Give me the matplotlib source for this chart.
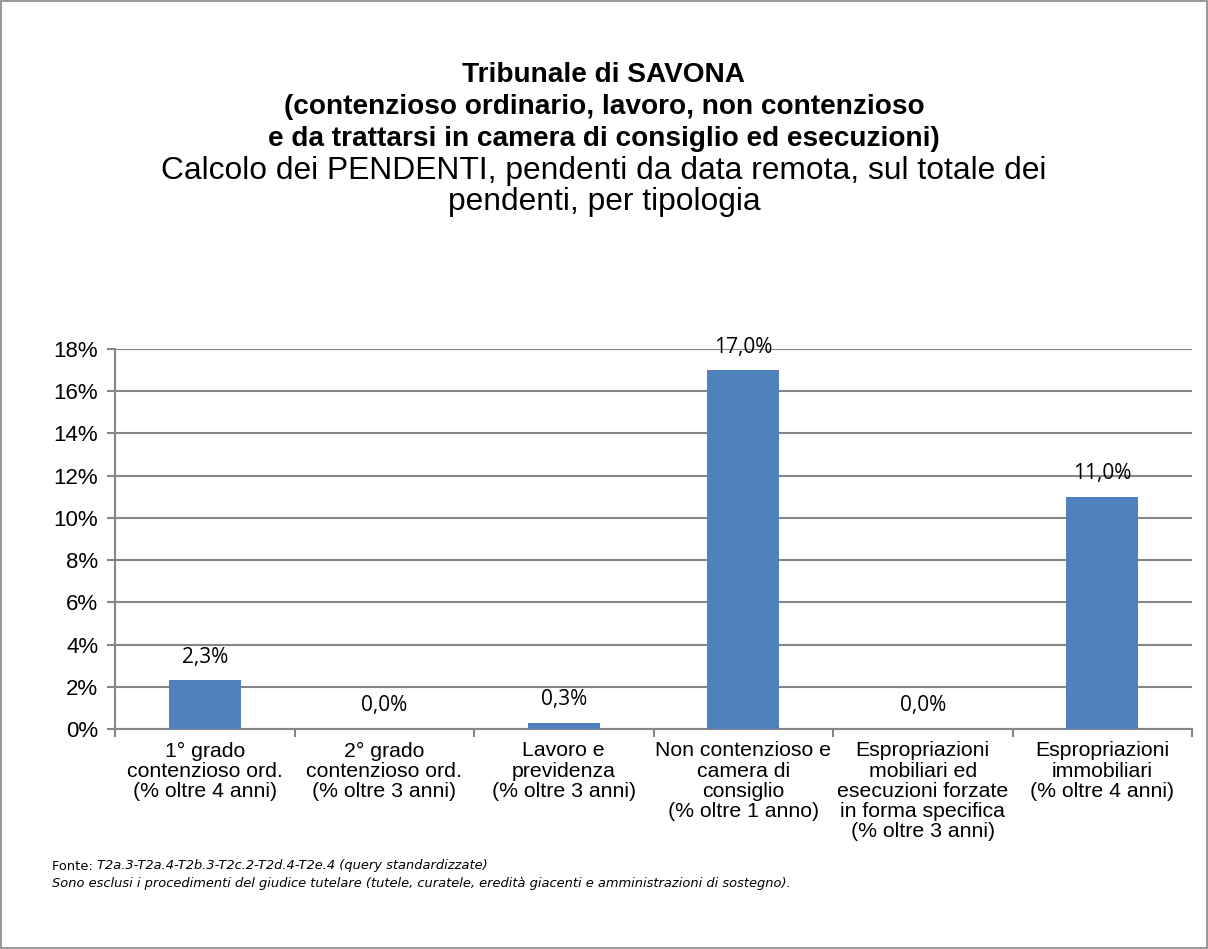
import matplotlib.pyplot as plt
from matplotlib.patches import Rectangle
from matplotlib.ticker import FixedLocator, NullFormatter

# Dati
categorie = [
    "1° grado\ncontenzioso ord.\n(% oltre 4 anni)",
    "2° grado\ncontenzioso ord.\n(% oltre 3 anni)",
    "Lavoro e\nprevidenza\n(% oltre 3 anni)",
    "Non contenzioso e\ncamera di\nconsiglio\n(% oltre 1 anno)",
    "Espropriazioni\nmobiliari ed\nesecuzioni forzate\nin forma specifica\n(% oltre 3 anni)",
    "Espropriazioni\nimmobiliari\n(% oltre 4 anni)",
]
valori = [2.3, 0.0, 0.3, 17.0, 0.0, 11.0]
etichette = ["2,3%", "0,0%", "0,3%", "17,0%", "0,0%", "11,0%"]
y_ticks = [0, 2, 4, 6, 8, 10, 12, 14, 16, 18]

blu = "#4F81BD"
grigio = "#868686"
W, H = 1208, 949

fig = plt.figure(figsize=(W / 100, H / 100), dpi=100)
fig.patches.append(Rectangle((0.001, 0.001), 0.998, 0.998, transform=fig.transFigure,
                             fill=False, edgecolor=grigio, linewidth=1.2))

# Titolo (righe in grassetto + sottotitolo)
righe_titolo = ["Tribunale di SAVONA",
                "(contenzioso ordinario, lavoro, non contenzioso",
                "e da trattarsi in camera di consiglio ed esecuzioni)"]
for k, r in enumerate(righe_titolo):
    fig.text(0.5, 1 - (75 + 32 * k) / H, r, ha="center", va="center", fontsize=20.2,
             fontweight="bold", family="Liberation Sans")
righe_sotto = ["Calcolo dei PENDENTI, pendenti da data remota, sul totale dei",
               "pendenti, per tipologia"]
for k, r in enumerate(righe_sotto):
    fig.text(0.5, 1 - (171 + 31 * k) / H, r, ha="center", va="center",
             fontsize=22.9, family="Liberation Sans")

ax = fig.add_axes([115 / W, 1 - 729 / H, (1192 - 115) / W, (729 - 349) / H])
x = list(range(len(categorie)))
ax.bar(x, valori, width=0.4, color=blu, zorder=3)
ax.set_xlim(-0.5, len(categorie) - 0.5)
ax.set_ylim(0, 18)
ax.set_yticks(y_ticks)
ax.set_yticklabels([f"{v}%" for v in y_ticks], family="Liberation Sans", fontsize=16)
ax.yaxis.grid(True, color=grigio, linewidth=1.5, zorder=0)
ax.tick_params(axis="y", length=6, width=1.5, color=grigio, pad=6)

ax.set_xticks(x)
ax.set_xticklabels([])
ax.tick_params(axis="x", which="major", length=0)
ax.xaxis.set_minor_locator(FixedLocator([i - 0.5 for i in range(len(categorie) + 1)]))
ax.xaxis.set_minor_formatter(NullFormatter())
ax.tick_params(axis="x", which="minor", length=6, width=1.5, color=grigio)

for s in ["top", "right"]:
    ax.spines[s].set_visible(False)
for s in ["left", "bottom"]:
    ax.spines[s].set_color(grigio)
    ax.spines[s].set_linewidth(1.5)

for i, cat in enumerate(categorie):
    ax.annotate(cat, (i, 0), xytext=(0, -9), textcoords="offset points", ha="center", va="top",
                fontsize=15.3, family="Liberation Sans", linespacing=1.08, annotation_clip=False)

for i, (v, t) in enumerate(zip(valori, etichette)):
    ax.annotate(t, (i, v), xytext=(0, 9), textcoords="offset points", ha="center", va="bottom",
                fontsize=15, family="Open Sans", annotation_clip=False)

# Note a piè di pagina
t1 = fig.text(52 / W, 1 - 866 / H, "Fonte: ", fontsize=9.4, family="DejaVu Sans", va="center")
fig.canvas.draw()
bb = t1.get_window_extent()
fig.text(bb.x1 / W, 1 - 866 / H, "T2a.3-T2a.4-T2b.3-T2c.2-T2d.4-T2e.4 (query standardizzate)",
         fontsize=9.4, family="DejaVu Sans", style="italic", va="center")
fig.text(52 / W, 1 - 883 / H,
         "Sono esclusi i procedimenti del giudice tutelare (tutele, curatele, eredità giacenti e amministrazioni di sostegno).",
         fontsize=9.4, family="DejaVu Sans", style="italic", va="center")

fig.savefig("out.png", dpi=100)
